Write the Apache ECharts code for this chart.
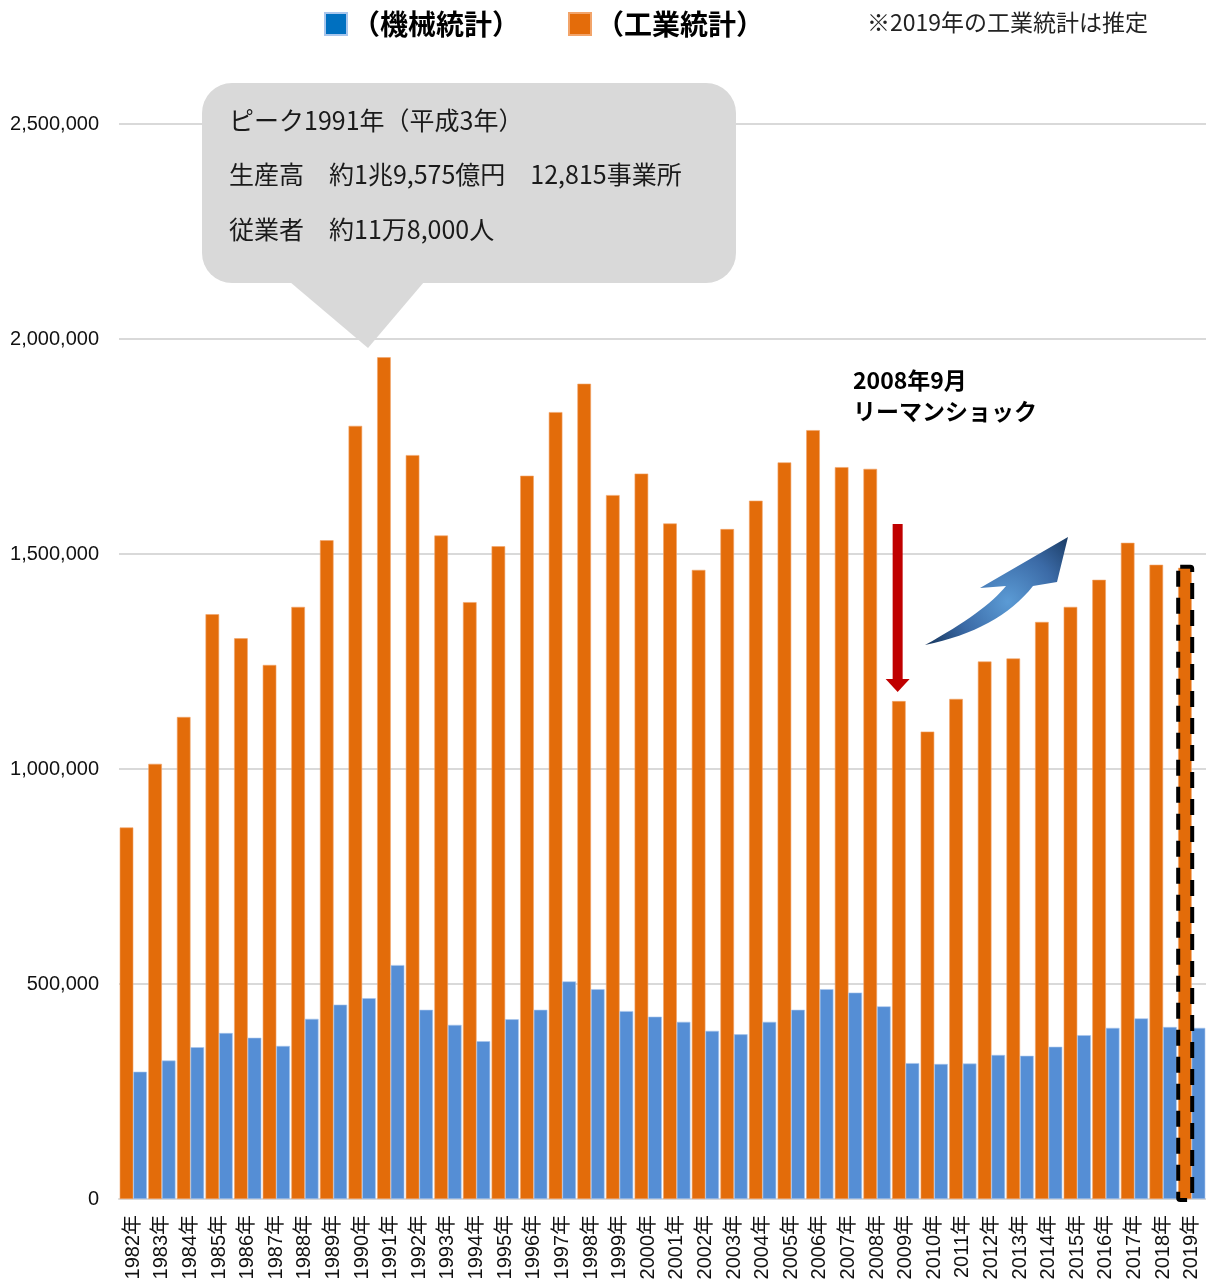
<!DOCTYPE html>
<html lang="ja">
<head>
<meta charset="utf-8">
<title>生産高の推移</title>
<script src="https://cdn.jsdelivr.net/npm/echarts@6/dist/echarts.min.js"></script>
<style>
  html, body { margin: 0; padding: 0; background: #fff; }
  #chart { width: 1206px; height: 1287px; }
</style>
</head>
<body>
<div id="chart"></div>
<script>
// 年
const years = [
  '1982年','1983年','1984年','1985年','1986年','1987年','1988年','1989年','1990年','1991年',
  '1992年','1993年','1994年','1995年','1996年','1997年','1998年','1999年','2000年','2001年',
  '2002年','2003年','2004年','2005年','2006年','2007年','2008年','2009年','2010年','2011年',
  '2012年','2013年','2014年','2015年','2016年','2017年','2018年','2019年'
]

// 工業統計 (百万円) 2019年は推定
const kogyo = [
  864000, 1012000, 1121000, 1360000, 1304000, 1242000, 1377000, 1532000, 1798000, 1957500,
  1730000, 1543000, 1388000, 1518000, 1682000, 1830000, 1896000, 1637000, 1687000, 1571000,
  1463000, 1558000, 1624000, 1713000, 1788000, 1702000, 1698000, 1158000, 1087000, 1163000,
  1250000, 1257000, 1342000, 1377000, 1440000, 1526000, 1475000, 1468000
]

// 機械統計 (百万円)
const kikai = [
  296000, 322000, 353000, 386000, 375000, 356000, 419000, 452000, 467000, 544000,
  440000, 405000, 367000, 418000, 440000, 506000, 488000, 437000, 424000, 412000,
  391000, 383000, 412000, 440000, 488000, 480000, 448000, 316000, 314000, 315000,
  335000, 333000, 354000, 381000, 398000, 420000, 400000, 398000
]

const peakLines = [
  'ピーク1991年（平成3年）',
  '生産高　約1兆9,575億円　12,815事業所',
  '従業者　約11万8,000人'
]

const JP = '"Noto Sans CJK JP", sans-serif'
const LAT = '"Liberation Sans", Arial, "Noto Sans CJK JP", sans-serif'

const chart = echarts.init(document.getElementById('chart'))

chart.setOption({
  animation: false,
  grid: { left: 119, right: -2, top: 124, bottom: 88 },
  legend: {
    left: 319,
    top: 5,
    icon: 'rect',
    itemWidth: 22,
    itemHeight: 22,
    itemGap: 48,
    textStyle: { fontSize: 28, fontWeight: 'bold', color: '#000', fontFamily: JP },
    data: [
      { name: '（機械統計）', itemStyle: { color: '#0070C0' } },
      { name: '（工業統計）', itemStyle: { color: '#E46C0A' } }
    ]
  },
  xAxis: {
    type: 'category',
    data: years,
    axisTick: { show: false },
    axisLine: { lineStyle: { color: '#D9D9D9', width: 2 } },
    axisLabel: {
      interval: 0,
      rotate: 90,
      margin: 16,
      fontSize: 20,
      color: '#111',
      fontFamily: LAT
    }
  },
  yAxis: {
    type: 'value',
    min: 0,
    max: 2500000,
    interval: 500000,
    axisLine: { show: false },
    axisTick: { show: false },
    splitLine: { lineStyle: { color: '#D9D9D9', width: 2 } },
    axisLabel: {
      margin: 20,
      fontSize: 20,
      color: '#111',
      fontFamily: LAT,
      formatter: (v) => v.toLocaleString('en-US')
    }
  },
  series: [
    {
      name: '（工業統計）',
      type: 'bar',
      data: kogyo,
      barGap: '0%',
      barCategoryGap: '5%',
      itemStyle: { color: '#E36C0A', borderColor: '#F2A46A', borderWidth: 0.6 }
    },
    {
      name: '（機械統計）',
      type: 'bar',
      data: kikai,
      barGap: '0%',
      barCategoryGap: '5%',
      itemStyle: { color: '#558ED5', borderColor: '#A9C6EC', borderWidth: 0.6 }
    }
  ]
})

// annotations tied to the bars through the axes
const last = years.length - 1
const [cx2019, top2019] = chart.convertToPixel({ xAxisIndex: 0, yAxisIndex: 0 }, [years[last], kogyo[last]])
const [, base] = chart.convertToPixel({ xAxisIndex: 0, yAxisIndex: 0 }, [years[last], 0])
const i2009 = years.indexOf('2009年')
const [cx2009, top2009] = chart.convertToPixel({ xAxisIndex: 0, yAxisIndex: 0 }, [years[i2009], kogyo[i2009]])
const ax = cx2009 - 8

// quadratic curve sampled into points (for the recovery arrow outline)
function quad(p0, c, p1, n = 16) {
  const pts = []
  for (let k = 1; k <= n; k++) {
    const t = k / n
    const u = 1 - t
    pts.push([u * u * p0[0] + 2 * u * t * c[0] + t * t * p1[0], u * u * p0[1] + 2 * u * t * c[1] + t * t * p1[1]])
  }
  return pts
}
const arrowPts = [
  [1068, 537], [980, 588], [1006, 586],
  ...quad([1006, 586], [985, 612], [925, 645]),
  ...quad([925, 645], [998, 630], [1033, 586]),
  [1057, 582]
]

chart.setOption({
  graphic: [
    // 吹き出し
    {
      type: 'rect',
      shape: { x: 202, y: 83, width: 534, height: 200, r: 30 },
      style: { fill: '#D9D9D9' },
      z: 10
    },
    {
      type: 'polygon',
      shape: { points: [[290, 282], [424, 282], [368, 348]] },
      style: { fill: '#D9D9D9' },
      z: 10
    },
    ...peakLines.map((t, i) => ({
      type: 'text',
      x: 229,
      y: 120 + i * 54.5,
      style: {
        text: t,
        font: '25px ' + JP,
        fill: '#1a1a1a',
        verticalAlign: 'middle'
      },
      z: 11
    })),
    // 注記
    {
      type: 'text',
      x: 867,
      y: 22,
      style: {
        text: '※2019年の工業統計は推定',
        font: '23px ' + JP,
        fill: '#222',
        verticalAlign: 'middle'
      }
    },
    {
      type: 'text',
      x: 853,
      y: 365,
      style: {
        text: '2008年9月\nリーマンショック',
        font: 'bold 23px ' + JP,
        lineHeight: 31,
        fill: '#000',
        verticalAlign: 'top'
      },
      z: 11
    },
    // 赤い矢印
    {
      type: 'rect',
      shape: { x: ax - 5, y: 524, width: 10, height: top2009 - 9 - 12 - 524 },
      style: { fill: '#C00000' },
      z: 11
    },
    {
      type: 'polygon',
      shape: { points: [[ax - 12, top2009 - 22], [ax + 12, top2009 - 22], [ax, top2009 - 9]] },
      style: { fill: '#C00000' },
      z: 11
    },
    // 回復の矢印
    {
      type: 'polygon',
      shape: { points: arrowPts },
      style: {
        fill: {
          type: 'radial',
          x: 0.58,
          y: 0.6,
          r: 0.85,
          colorStops: [
            { offset: 0, color: '#5B9BD5' },
            { offset: 0.55, color: '#3B6AA6' },
            { offset: 1, color: '#17375E' }
          ]
        }
      },
      z: 11
    },
    // 2019年 推定 枠
    {
      type: 'rect',
      shape: { x: cx2019 - 13.5, y: top2019 - 1, width: 14, height: base - top2019 + 2, r: 2 },
      style: { fill: 'none', stroke: '#000', lineWidth: 4, lineDash: [16, 11] },
      z: 12
    }
  ]
})
</script>
</body>
</html>
